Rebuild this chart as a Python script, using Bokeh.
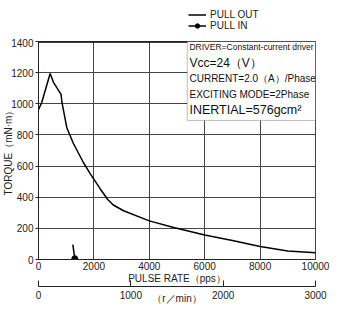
from bokeh.plotting import figure
from bokeh.layouts import column
from bokeh.models import (Range1d, LinearAxis, FixedTicker, Span, BoxAnnotation,
                          Label, Legend, LegendItem)
from bokeh.embed import file_html
from bokeh.resources import INLINE

# ---- data ----
pps_out = [0, 120, 420, 540, 815, 845, 1020, 1260, 1620, 1870, 2230, 2500, 2700, 3070,
           4000, 4880, 6000, 7000, 8000, 9000, 10000]
torque_out = [962, 1010, 1195, 1138, 1060, 1010, 848, 745, 623, 550, 453, 385, 350, 313,
              248, 205, 158, 122, 83, 55, 44]
pps_in = [1240, 1310]
torque_in = [95, 5]

x_ticks = [0, 2000, 4000, 6000, 8000, 10000]
y_ticks = [0, 200, 400, 600, 800, 1000, 1200, 1400]
rpm_ticks = [0, 1000, 2000, 3000]

info_lines = ["DRIVER=Constant-current driver", "Vcc=24（V）",
              "CURRENT=2.0（A）/Phase", "EXCITING MODE=2Phase", "INERTIAL=576gcm²"]

FONT = "Liberation Sans"

# ---------- legend strip ----------
pl = figure(width=339, height=38, output_backend="svg", toolbar_location=None,
            x_range=Range1d(0, 1), y_range=Range1d(0, 1),
            x_axis_type=None, y_axis_type=None,
            min_border=0, outline_line_color=None)
pl.grid.visible = False
l_out = pl.line([-5, -4], [-5, -4], line_color="black", line_width=1.5)
l_in = pl.line([-5, -4], [-5, -4], line_color="black", line_width=1.5)
l_dot = pl.scatter([-5], [-5], size=6, color="black")
legend = Legend(items=[LegendItem(label="PULL OUT", renderers=[l_out]),
                       LegendItem(label="PULL IN", renderers=[l_in, l_dot])],
                location=(150, 7), orientation="vertical",
                border_line_color=None, background_fill_alpha=0,
                padding=0, margin=0, spacing=0, glyph_width=18, glyph_height=11,
                label_standoff=4, label_text_font=FONT, label_text_font_size="10px",
                label_height=11, label_text_color="#222222")
pl.add_layout(legend, "center")

# ---------- main chart ----------
p = figure(width=339, height=271, output_backend="svg", toolbar_location=None,
           x_range=Range1d(0, 10000), y_range=Range1d(0, 1400),
           min_border_left=38, min_border_right=24, min_border_top=3,
           min_border_bottom=50)
p.background_fill_color = "white"
p.border_fill_color = "white"
p.outline_line_color = "#444444"
p.outline_line_width = 1

p.grid.grid_line_color = "#444444"
p.grid.grid_line_width = 1
p.grid.grid_line_alpha = 1

xa = p.xaxis[0]
xa.ticker = FixedTicker(ticks=x_ticks)
xa.axis_line_color = "#222222"
xa.major_tick_out = 0
xa.major_tick_in = 0
xa.minor_tick_out = 0
xa.minor_tick_in = 0
xa.major_label_standoff = 2
xa.major_label_text_font = FONT
xa.major_label_text_font_size = "10px"
xa.major_label_text_color = "#222222"
xa.axis_label = "PULSE RATE（pps）"
xa.axis_label_standoff = 0
xa.axis_label_text_font = FONT
xa.axis_label_text_font_size = "10px"
xa.axis_label_text_font_style = "normal"
xa.axis_label_text_color = "#222222"

ya = p.yaxis[0]
ya.ticker = FixedTicker(ticks=y_ticks)
ya.axis_line_color = "#222222"
ya.major_tick_out = 3
ya.major_tick_in = 0
ya.minor_tick_out = 0
ya.minor_tick_in = 0
ya.major_tick_line_color = "#222222"
ya.major_label_standoff = 2
ya.major_label_text_font = FONT
ya.major_label_text_font_size = "10px"
ya.major_label_text_color = "#222222"
ya.axis_label = "TORQUE（mN·m）"
ya.axis_label_standoff = -6
ya.axis_label_text_font = FONT
ya.axis_label_text_font_size = "10px"
ya.axis_label_text_font_style = "normal"
ya.axis_label_text_color = "#222222"

p.extra_x_ranges = {"rpm": Range1d(0, 3000)}
ra = LinearAxis(x_range_name="rpm", ticker=FixedTicker(ticks=rpm_ticks))
ra.axis_line_color = "#222222"
ra.major_tick_in = 6
ra.major_tick_out = 0
ra.minor_tick_in = 0
ra.minor_tick_out = 0
ra.major_tick_line_color = "#222222"
ra.major_label_standoff = 4
ra.major_label_text_font = FONT
ra.major_label_text_font_size = "10px"
ra.major_label_text_color = "#222222"
ra.axis_label = "（r／min）"
ra.axis_label_standoff = -9
ra.axis_label_text_font = FONT
ra.axis_label_text_font_size = "10px"
ra.axis_label_text_font_style = "normal"
ra.axis_label_text_color = "#222222"
p.add_layout(ra, "below")

p.add_layout(Span(location=1400, dimension="width", line_color="black", line_width=2.5))

r_out = p.line(pps_out, torque_out, line_color="black", line_width=1.5)
r_in_line = p.line(pps_in, torque_in, line_color="black", line_width=1.5)
r_in_dot = p.scatter(pps_in[-1:], torque_in[-1:], size=6, color="black")

p.add_layout(BoxAnnotation(left=5370, right=10000, bottom=893, top=1400,
                           fill_color="white", fill_alpha=1,
                           line_color="#222222", line_width=1))
sizes = ["8.5px", "12px", "10px", "10px", "12.5px"]
ys = [1365, 1261, 1165, 1061, 958]
for txt, fs, yy in zip(info_lines, sizes, ys):
    p.add_layout(Label(x=5450, y=yy, text=txt, text_align="left",
                       text_baseline="middle", text_font=FONT,
                       text_font_size=fs, text_color="#111111"))

layout = column(pl, p, spacing=0)
open("out.html", "w").write(file_html(layout, INLINE))
